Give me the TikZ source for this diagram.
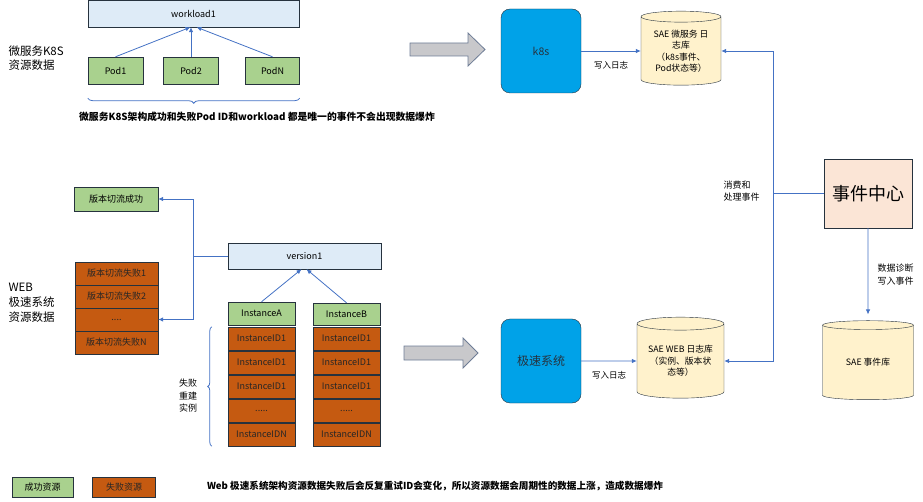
\documentclass[tikz,border=0pt]{standalone}
\usepackage{fontspec}
\setmainfont{Noto Sans CJK SC}
\usepackage{tikz}
\usetikzlibrary{arrows.meta,positioning,shapes,calc,decorations.pathreplacing}
\definecolor{lightblue}{RGB}{222,235,247}
\definecolor{okgreen}{RGB}{169,209,142}
\definecolor{failorange}{RGB}{197,90,17}
\definecolor{sysblue}{RGB}{0,162,232}
\definecolor{dbyellow}{RGB}{255,242,204}
\definecolor{centerpeach}{RGB}{251,229,214}
\definecolor{linkblue}{RGB}{68,114,196}
\definecolor{edgedark}{RGB}{38,50,62}
\definecolor{arrowgray}{RGB}{200,200,203}
\definecolor{arrowedge}{RGB}{110,125,150}
\newcommand{\fourdots}{....}
\newcommand{\fivedots}{.....}

\begin{document}
\begin{tikzpicture}[x=1pt,y=-1pt,font=\fontsize{9}{11}\selectfont,
    box/.style={draw=edgedark, inner sep=0pt, align=center},
    wlbox/.style={box, fill=lightblue},
    okbox/.style={box, fill=okgreen},
    failbox/.style={box, fill=failorange, text=black!85},
    sysbox/.style={box, fill=sysblue, rounded corners=9pt, text=edgedark, minimum width=80pt, minimum height=84pt},
    dbbox/.style={cylinder, shape border rotate=90, aspect=0.2, draw=edgedark, fill=dbyellow, inner sep=0pt, align=center, font=\fontsize{8.8}{11.5}\selectfont},
    link/.style={draw=linkblue, line width=0.8pt, -{Latex[length=5pt,width=4.5pt]}},
    bracestyle/.style={draw=linkblue, line width=0.8pt, decorate},
    bigarrow/.style={draw=arrowedge, fill=arrowgray, line width=0.8pt}]
    \useasboundingbox (0,0) rectangle (923,502);

    % K8S part
    \node[wlbox, minimum width=211pt, minimum height=27pt] (wl) at (193.5,13.5) {workload1};
    \node[okbox, minimum width=55pt, minimum height=27pt] (pod1) at (115.5,70.5) {Pod1};
    \node[okbox, minimum width=55pt, minimum height=27pt] (pod2) at (191,70.5) {Pod2};
    \node[okbox, minimum width=54pt, minimum height=27pt] (podN) at (272.5,70.5) {PodN};
    \draw[link] (pod1.north) -- ([xshift=-3pt]wl.south);
    \draw[link] (pod2.north) -- (pod2.north |- wl.south);
    \draw[link] (podN.north) -- ([xshift=3pt]wl.south);
    \draw[bracestyle, decoration={brace, mirror, amplitude=5pt}] ([yshift=-14pt]pod1.south west) -- ([yshift=-14pt]podN.south east);
    \node[font=\fontsize{9.8}{12}\selectfont\bfseries] (cap1) at (257,117) {微服务K8S架构成功和失败Pod ID和workload 都是唯一的事件不会出现数据爆炸};
    \node[anchor=west, align=left, font=\fontsize{11.5}{14}\selectfont] (lbl1) at (5,58) {微服务K8S\\资源数据};

    % WEB part
    \node[okbox, minimum width=84pt, minimum height=24pt] (ok) at (116,199) {版本切流成功};
    \foreach \txt [count=\i] in {版本切流失败1,版本切流失败2,\fourdots,版本切流失败N}
        \node[failbox, minimum width=83pt, minimum height=23pt] (fail\i) at (116.5,250.5+23*\i) {\txt};
    \node[wlbox, minimum width=153pt, minimum height=26pt] (ver) at (304.5,256) {version1};
    \node[okbox, minimum width=67pt, minimum height=23pt] (instA) at (261.5,313.5) {InstanceA};
    \node[okbox, minimum width=67pt, minimum height=22pt] (instB) at (346.5,314) {InstanceB};
    \foreach \txt [count=\i] in {InstanceID1,InstanceID1,InstanceID1,\fivedots,InstanceIDN} {
        \node[failbox, minimum width=67pt, minimum height=23pt] (a\i) at (261.5,314.5+24*\i) {\txt};
        \node[failbox, minimum width=67pt, minimum height=23pt] (b\i) at (346.5,314.5+24*\i) {\txt};
    }
    \draw[link] (instA.north) -- ([xshift=-3pt]ver.south);
    \draw[link] (instB.north) -- ([xshift=2pt]ver.south);
    \coordinate (vsplit) at (193,256);
    \draw[link,-] (ver.west) -- (vsplit);
    \draw[link] (vsplit) |- (ok);
    \draw[link] (vsplit) |- (fail3);
    \draw[bracestyle, decoration={brace, amplitude=4pt}] ([xshift=-16pt]a5.south west) -- ([xshift=-16pt]a1.north west);
    \node[align=center, font=\fontsize{9}{12.5}\selectfont] (rebuild) at (188,396) {失败\\重建\\实例};
    \node[anchor=west, align=left, font=\fontsize{11.5}{15}\selectfont] (lbl2) at (5,303) {WEB\\极速系统\\资源数据};

    % big arrows
    \draw[bigarrow] (410,43) -- (468,43) -- (468,33) -- (485,49.5) -- (468,66) -- (468,56) -- (410,56) -- cycle;
    \draw[bigarrow] (404,346) -- (463,346) -- (463,338) -- (478,353) -- (463,368) -- (463,360) -- (404,360) -- cycle;

    % systems and stores
    \node[sysbox, font=\fontsize{10.5}{12}\selectfont] (k8s) at (541,51) {k8s};
    \node[sysbox, font=\fontsize{12}{14}\selectfont] (fast) at (541,361) {极速系统};
    \node[dbbox, minimum width=80pt, minimum height=74pt] (sae1) at (681,51) {SAE 微服务 日\\志库\\（k8s事件、\\Pod状态等）};
    \node[dbbox, minimum width=87pt, minimum height=81pt] (sae2) at (680.5,361) {SAE WEB 日志库\\（实例、版本状\\态等）};
    \node[dbbox, minimum width=91pt, minimum height=79pt] (db) at (868,362.5) {SAE 事件库};
    \node[box, fill=centerpeach, minimum width=88pt, minimum height=69pt, font=\fontsize{18}{20}\selectfont] (evc) at (868,193.5) {事件中心};

    \draw[link] (k8s) -- (sae1) node[midway, below=7pt, font=\fontsize{8.5}{10}\selectfont] {写入日志};
    \draw[link] (fast) -- (sae2) node[midway, below=7pt, font=\fontsize{8.5}{10}\selectfont] {写入日志};
    \coordinate (split) at (773,193.5);
    \draw[link,-] (evc.west) -- (split);
    \draw[link] (split) |- (sae1);
    \draw[link] (split) |- (sae2);
    \draw[link, shorten >=6pt] (evc) -- (db);
    \node[anchor=west, align=left, font=\fontsize{9}{12}\selectfont] (consume) at (720,191) {消费和\\处理事件};
    \node[anchor=west, align=left, font=\fontsize{9}{13}\selectfont] (diag) at (874,274.5) {数据诊断\\写入事件};

    % legend
    \node[okbox, minimum width=61pt, minimum height=20pt] (legok) at (42.5,487) {成功资源};
    \node[failbox, minimum width=63pt, minimum height=20pt] (legfail) at (124,487) {失败资源};
    \node[font=\fontsize{9.6}{12}\selectfont\bfseries] (cap2) at (435,486) {Web 极速系统架构资源数据失败后会反复重试ID会变化，所以资源数据会周期性的数据上涨，造成数据爆炸};
\end{tikzpicture}
\end{document}
